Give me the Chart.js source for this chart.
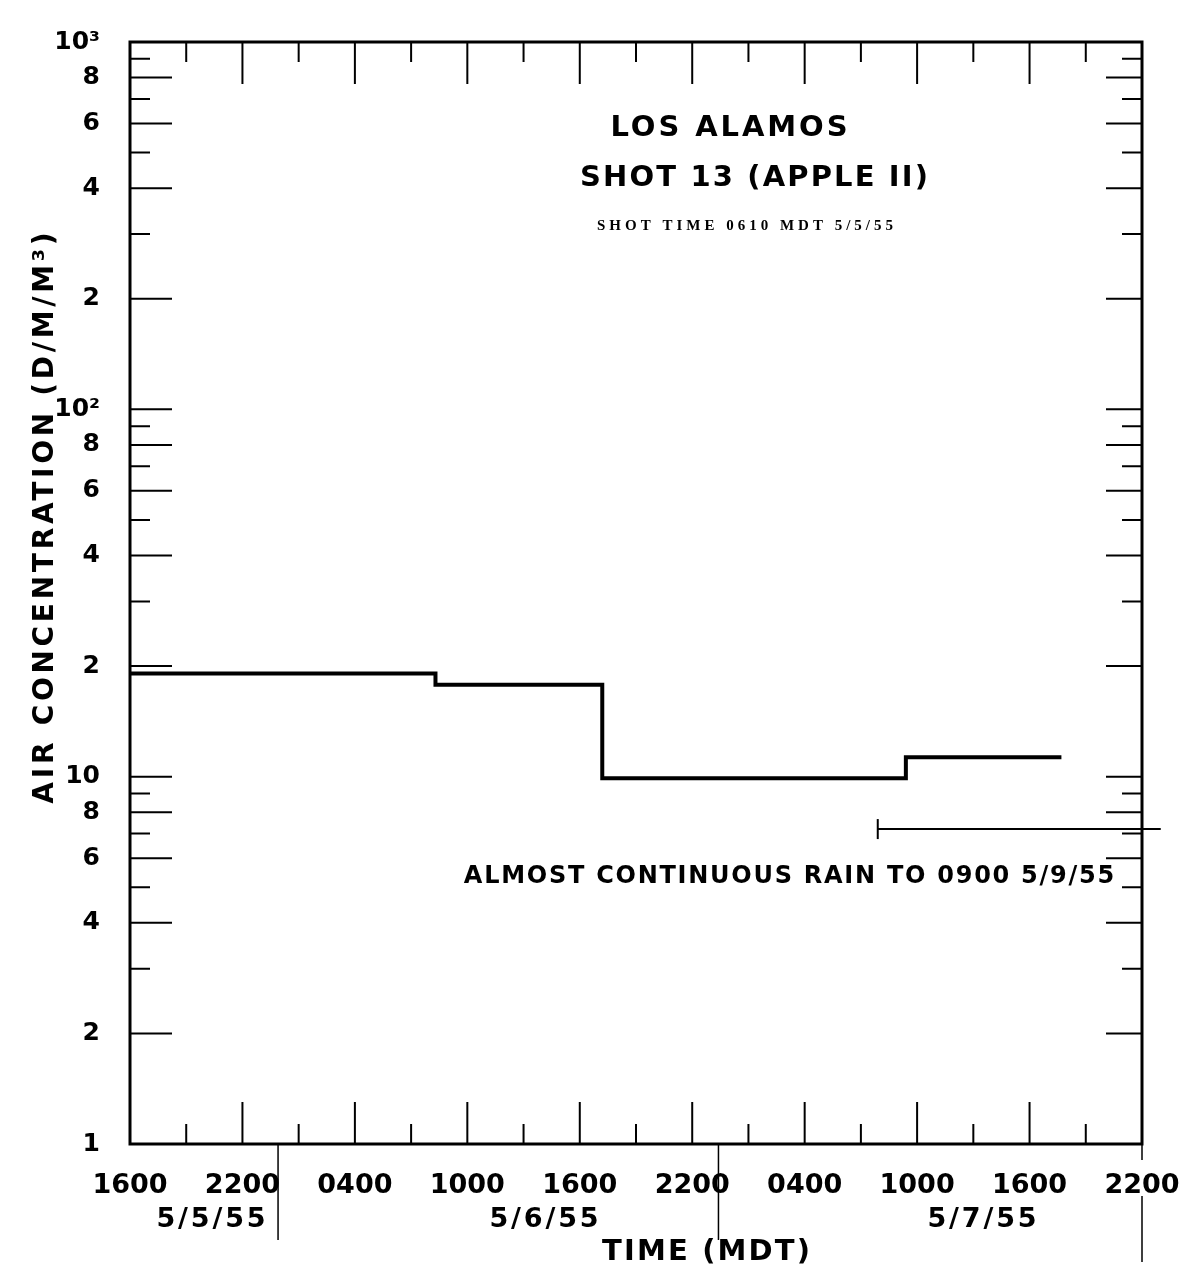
<!DOCTYPE html>
<html>
<head>
<meta charset="utf-8">
<script src="https://cdn.jsdelivr.net/npm/chart.js@4.4.1/dist/chart.umd.min.js"></script>
<style>
  html, body { margin: 0; padding: 0; background: #fff; }
  canvas { display: block; }
</style>
</head>
<body>
<canvas id="airChart" width="1179" height="1271"></canvas>
<script>
// x = hours after 1600 MDT 5/5/55
const stepHours = [0, 16.3, 25.2, 41.4, 49.7];
const stepConc = [19.1, 17.8, 9.9, 11.3, 11.3];
const rainHours = [39.9, 55];
const rainLevel = [7.2, 7.2];
const timeTicks = [0, 6, 12, 18, 24, 30, 36, 42, 48, 54];
const timeLabels = ['1600', '2200', '0400', '1000', '1600', '2200', '0400', '1000', '1600', '2200'];
const dayBreaks = [7.9, 31.4, 54];
const dayLabels = ['5/5/55', '5/6/55', '5/7/55'];
const concTicks = [1, 2, 4, 6, 8, 10, 20, 40, 60, 80, 100, 200, 400, 600, 800, 1000];
const concLabels = ['1', '2', '4', '6', '8', '10', '2', '4', '6', '8', '10\u00B2', '2', '4', '6', '8', '10\u00B3'];

const FONT = "'DejaVu Sans', sans-serif";

// draws text centred on (cx, cy), spread out to roughly the given width
function spacedText(ctx, text, cx, cy, font, width) {
    ctx.font = font;
    ctx.letterSpacing = '0px';
    const w = ctx.measureText(text).width;
    const ls = Math.max(0, (width - w) / text.length);
    ctx.letterSpacing = ls + 'px';
    ctx.textAlign = 'center';
    ctx.textBaseline = 'middle';
    ctx.fillText(text, cx + ls / 2, cy);
    ctx.letterSpacing = '0px';
}

const framePlugin = {
    id: 'frame',
    afterDraw(chart) {
        const ctx = chart.ctx;
        const a = chart.chartArea;
        const xs = chart.scales.x;
        const ys = chart.scales.y;
        ctx.save();
        ctx.strokeStyle = '#000';
        ctx.fillStyle = '#000';

        // box
        ctx.lineWidth = 3;
        ctx.strokeRect(a.left, a.top, a.right - a.left, a.bottom - a.top);

        // time ticks every 3 h, top and bottom, pointing in
        ctx.lineWidth = 2;
        for (let h = 3; h < 54; h += 3) {
            const x = xs.getPixelForValue(h);
            const len = h % 6 === 0 ? 42 : 20;
            ctx.beginPath();
            ctx.moveTo(x, a.top); ctx.lineTo(x, a.top + len);
            ctx.moveTo(x, a.bottom); ctx.lineTo(x, a.bottom - len);
            ctx.stroke();
        }

        // concentration ticks, left and right
        [1, 10, 100].forEach(d => {
            for (let m = 2; m <= 10; m++) {
                const y = ys.getPixelForValue(d * m);
                const major = m % 2 === 0;
                ctx.beginPath();
                ctx.moveTo(a.left, y); ctx.lineTo(a.left + (major ? 42 : 20), y);
                ctx.moveTo(a.right, y); ctx.lineTo(a.right - (major ? 36 : 20), y);
                ctx.stroke();
            }
        });

        // day separators below the axis
        ctx.lineWidth = 1.5;
        dayBreaks.forEach((h, i) => {
            const x = xs.getPixelForValue(h);
            ctx.beginPath();
            if (i === dayBreaks.length - 1) {
                ctx.moveTo(x, a.bottom); ctx.lineTo(x, a.bottom + 16);
                ctx.moveTo(x, a.bottom + 52); ctx.lineTo(x, a.bottom + 118);
            } else {
                ctx.moveTo(x, a.bottom); ctx.lineTo(x, a.bottom + 96);
            }
            ctx.stroke();
        });

        // day labels
        const dayCentres = [211, 544, 982];
        dayLabels.forEach((t, i) => spacedText(ctx, t, dayCentres[i], a.bottom + 76, 'bold 27px ' + FONT, 112));

        // axis titles
        spacedText(ctx, 'TIME (MDT)', 706, a.bottom + 108, 'bold 29px ' + FONT, 210);
        ctx.save();
        ctx.translate(46, 518);
        ctx.rotate(-Math.PI / 2);
        spacedText(ctx, 'AIR CONCENTRATION (D/M/M\u00B3)', 0, 0, 'bold 28px ' + FONT, 575);
        ctx.restore();

        // annotations
        spacedText(ctx, 'LOS ALAMOS', 729, 128, 'bold 29px ' + FONT, 240);
        spacedText(ctx, 'SHOT 13 (APPLE II)', 754, 178, 'bold 29px ' + FONT, 350);
        spacedText(ctx, 'SHOT TIME 0610 MDT 5/5/55', 745, 226, "bold 15px 'Liberation Serif', serif", 300);
        spacedText(ctx, 'ALMOST CONTINUOUS RAIN TO 0900 5/9/55', 789, 877, 'bold 24px ' + FONT, 652);

        ctx.restore();
    }
};

const ctx = document.getElementById('airChart').getContext('2d');
new Chart(ctx, {
    type: 'line',
    data: {
        datasets: [
            {
                data: stepHours.map((h, i) => ({ x: h, y: stepConc[i] })),
                stepped: 'before',
                borderColor: '#000',
                borderWidth: 4,
                pointRadius: 0,
                fill: false
            },
            {
                data: rainHours.map((h, i) => ({ x: h, y: rainLevel[i] })),
                borderColor: '#000',
                borderWidth: 2,
                pointStyle: 'line',
                pointRotation: 90,
                pointRadius: [10, 0],
                pointBorderWidth: 2,
                pointBorderColor: '#000',
                clip: false,
                fill: false
            }
        ]
    },
    options: {
        responsive: false,
        animation: false,
        layout: { padding: { top: 42, right: 37, left: 0, bottom: 0 }, autoPadding: false },
        plugins: { legend: { display: false }, tooltip: { enabled: false } },
        scales: {
            x: {
                type: 'linear',
                min: 0,
                max: 54,
                afterBuildTicks: s => { s.ticks = timeTicks.map(v => ({ value: v })); },
                ticks: {
                    callback: (v, i) => timeLabels[i],
                    font: { family: FONT, size: 27, weight: 'bold' },
                    color: '#000',
                    maxRotation: 0,
                    autoSkip: false,
                    padding: 18
                },
                grid: { display: false },
                border: { display: false },
                afterFit: s => { s.height = 127; s.paddingLeft = 0; s.paddingRight = 0; }
            },
            y: {
                type: 'logarithmic',
                min: 1,
                max: 1000,
                afterBuildTicks: s => { s.ticks = concTicks.map(v => ({ value: v })); },
                ticks: {
                    callback: (v, i) => concLabels[i],
                    font: { family: FONT, size: 25, weight: 'bold' },
                    color: '#000',
                    autoSkip: false,
                    padding: 22
                },
                grid: { display: false },
                border: { display: false },
                afterFit: s => { s.width = 130; s.paddingTop = 0; s.paddingBottom = 0; }
            }
        }
    },
    plugins: [framePlugin]
});
</script>
</body>
</html>
